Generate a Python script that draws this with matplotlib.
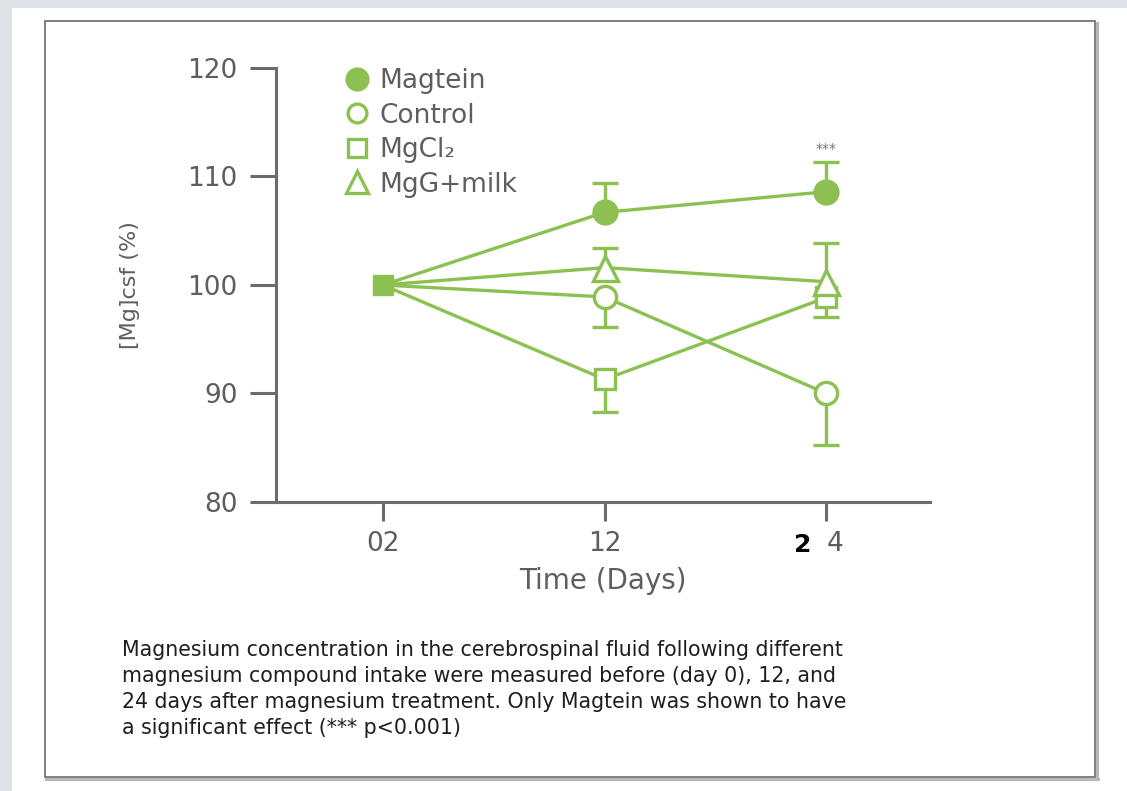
import numpy as np
import matplotlib
matplotlib.use("Agg")
import matplotlib.pyplot as plt
from matplotlib.lines import Line2D
from matplotlib.patches import Rectangle
from matplotlib.transforms import ScaledTranslation

# ---------------- data ----------------
days = [0, 12, 24]
tick_labels = ["02", "12", "4"]
series_names = ["Magtein", "Control", "MgCl₂", "MgG+milk"]
magtein = [100, 106.7, 108.6]
magtein_err_up = [0, 2.7, 2.7]
control = [100, 98.9, 90.0]
control_err_down = [0, 2.8, 4.75]
mgcl2 = [100, 91.3, 98.85]
mgcl2_err_down = [0, 3.0, 1.8]
milk = [100, 101.6, 100.3]
milk_err_up = [0, 1.8, 3.6]
yticks = [80, 90, 100, 110, 120]
caption_lines = [
    "Magnesium concentration in the cerebrospinal fluid following different",
    "magnesium compound intake were measured before (day 0), 12, and",
    "24 days after magnesium treatment. Only Magtein was shown to have",
    "a significant effect (*** p<0.001)",
]

# ---------------- style ----------------
W, H = 1127, 791
GREEN = "#8cc152"
GRAY = "#5e5e5e"
SPINE = "#6b6b6b"
plt.rcParams["font.family"] = ["DejaVu Sans"]

fig = plt.figure(figsize=(W / 100, H / 100), dpi=100)
fig.patch.set_facecolor("#dfe3e7")
fig.add_artist(Rectangle((12 / W, 0), 1, 1 - 8 / H, transform=fig.transFigure,
                         facecolor="white", edgecolor="none", zorder=0))
fig.add_artist(Rectangle((45 / W, 1 - 777 / H), (1095 - 45) / W, (777 - 21) / H,
                         transform=fig.transFigure, fill=False,
                         edgecolor="#757575", lw=1.3, zorder=1))
fig.add_artist(Line2D([1097 / W, 1097 / W], [1 - 23 / H, 1 - 779 / H],
                      transform=fig.transFigure, color="#b8b8b8", lw=2.2))
fig.add_artist(Line2D([46 / W, 1098 / W], [1 - 779 / H, 1 - 779 / H],
                      transform=fig.transFigure, color="#b8b8b8", lw=2.2))

ax = fig.add_axes([276 / W, 1 - 502 / H, (930 - 276) / W, (502 - 68) / H])
ax.set_facecolor("none")
ax.set_xlim(-5.78, 29.6)
ax.set_ylim(80, 120)
for s in ["top", "right"]:
    ax.spines[s].set_visible(False)
for s in ["left", "bottom"]:
    ax.spines[s].set_color(SPINE)
    ax.spines[s].set_linewidth(2.2)

ax.set_yticks(yticks)
ax.set_xticks(days)
ax.set_xticklabels(tick_labels)
ax.tick_params(axis="y", direction="out", length=18.5, width=2.2, color=SPINE,
               pad=9, labelsize=19, labelcolor=GRAY)
ax.tick_params(axis="x", direction="out", length=14, width=2.2, color=SPINE,
               pad=7, labelsize=19, labelcolor=GRAY)
lbl = ax.get_xticklabels()[2]
lbl.set_transform(lbl.get_transform() + ScaledTranslation(6 / 72, 0, fig.dpi_scale_trans))

ax.set_xlabel("Time (Days)", fontsize=20, color=GRAY, labelpad=7)
ax.set_ylabel("[Mg]csf (%)", fontsize=16, color=GRAY, labelpad=34)

x = np.array(days)
LW = 2.4

def series(vals, err, direction, marker, ms, filled):
    vals = np.array(vals, dtype=float)
    err = np.array(err, dtype=float)
    ax.plot(x, vals, color=GREEN, lw=LW, zorder=2, solid_capstyle="butt")
    end = vals + direction * err
    ax.vlines(x[1:], vals[1:], end[1:], color=GREEN, lw=LW, zorder=2)
    ax.plot(x[1:], end[1:], ls="none", marker="_", ms=19, mew=LW,
            color=GREEN, zorder=2)
    ax.plot(x[1:], vals[1:], ls="none", marker=marker, ms=ms, mew=LW,
            mec=GREEN, mfc=GREEN if filled else "white", zorder=3)

series(magtein, magtein_err_up, 1, "o", 16.5, True)
series(control, control_err_down, -1, "o", 16, False)
series(mgcl2, mgcl2_err_down, -1, "s", 15, False)
series(milk, milk_err_up, 1, "^", 18, False)
# coincident starting values at day 0
ax.plot(x[0], magtein[0], ls="none", marker="s", ms=15, color=GREEN, zorder=4)

# significance stars
ax.annotate("***", xy=(days[2], magtein[2] + magtein_err_up[2]), xytext=(0, 10),
            textcoords="offset points", ha="center", va="center",
            fontsize=10, color="#777777")

# handwritten-looking digit next to the last tick label
ax.annotate("2", xy=(days[2], 80), xytext=(-17, -31), textcoords="offset points",
            ha="center", va="center", fontsize=18, fontweight="bold",
            color="black", annotation_clip=False)

handles = [
    Line2D([], [], ls="none", marker="o", ms=15, mew=LW, mec=GREEN, mfc=GREEN),
    Line2D([], [], ls="none", marker="o", ms=13.5, mew=LW, mec=GREEN, mfc="white"),
    Line2D([], [], ls="none", marker="s", ms=13.5, mew=LW, mec=GREEN, mfc="white"),
    Line2D([], [], ls="none", marker="^", ms=16, mew=LW, mec=GREEN, mfc="white"),
]
leg = ax.legend(handles, series_names, loc="upper left",
                bbox_to_anchor=(333 / W, 1 - 55 / H), bbox_transform=fig.transFigure,
                frameon=False, borderpad=0, handlelength=0.85, handletextpad=0.4,
                labelspacing=0.32, fontsize=19)
for t in leg.get_texts():
    t.set_color(GRAY)

for i, line in enumerate(caption_lines):
    fig.text(122 / W, 1 - (650 + 26 * i) / H, line, fontsize=14.8,
             color="#1e1e1e", ha="left", va="center")

fig.savefig("out.png", dpi=100, facecolor=fig.get_facecolor())
